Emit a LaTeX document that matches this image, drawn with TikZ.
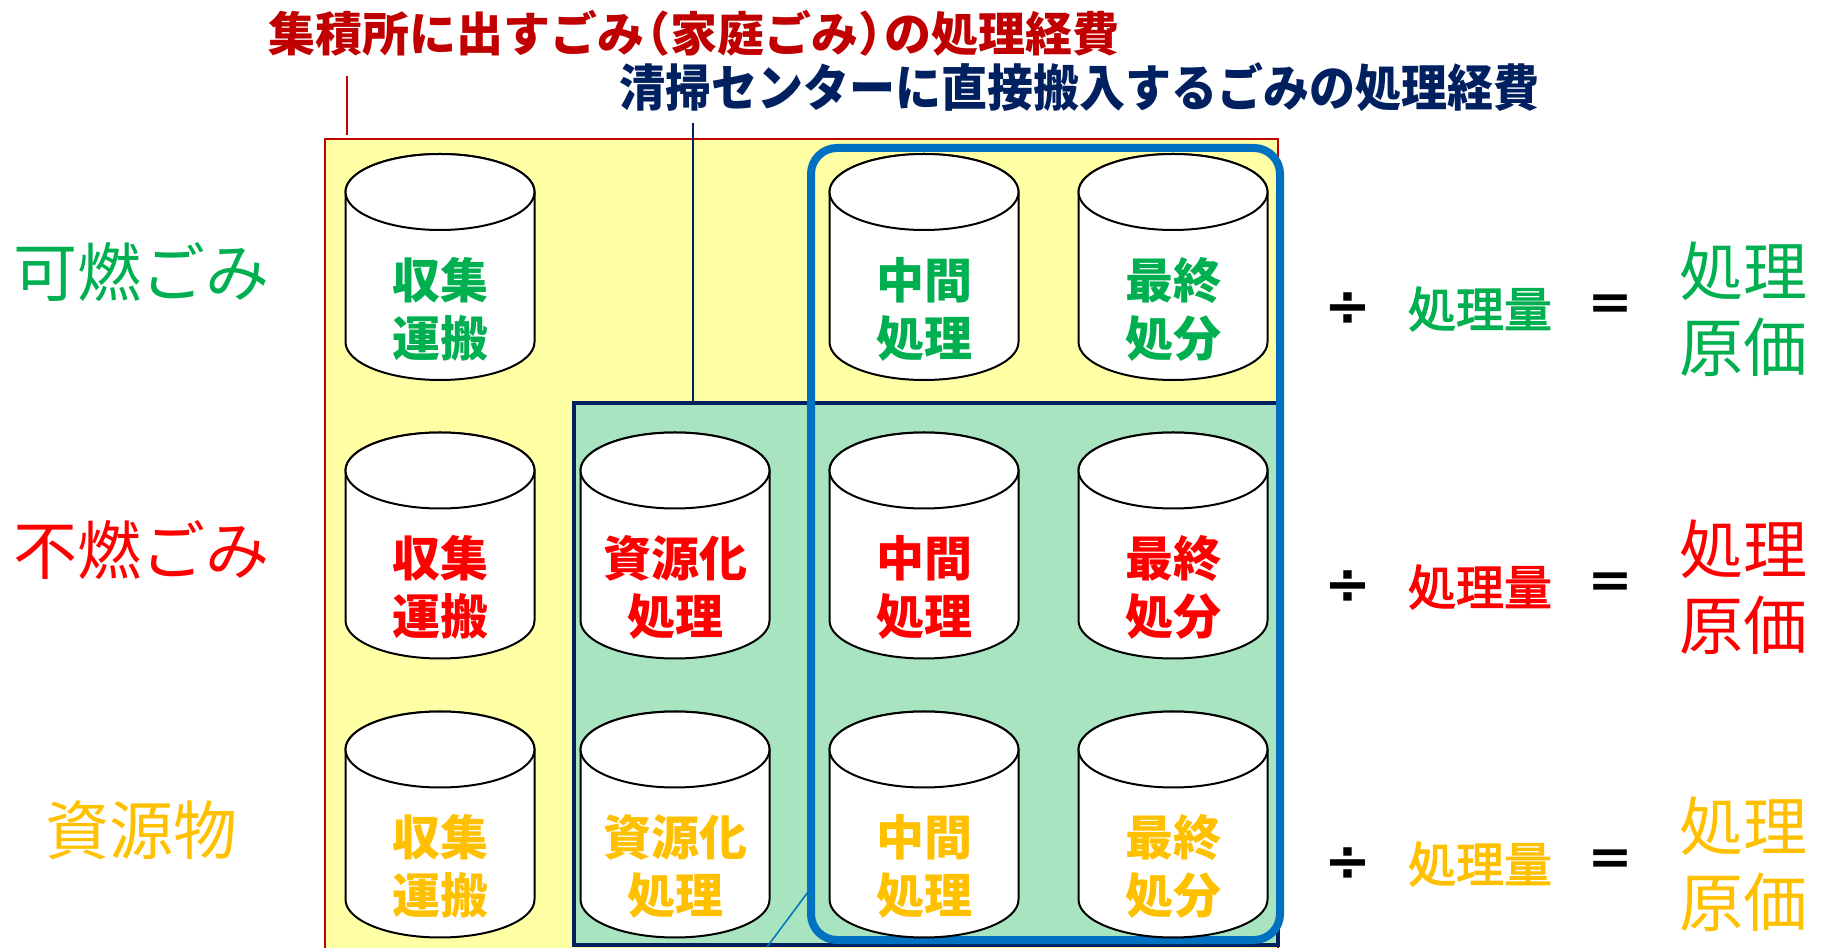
\documentclass[tikz,border=0pt]{standalone}
\usepackage{fontspec}
\setmainfont{Noto Sans CJK JP}
\newfontfamily\medfont{Noto Sans CJK JP}[FakeBold=2.5]
\newfontfamily\symfont{DejaVu Sans}
\definecolor{cgreen}{HTML}{00B050}
\definecolor{cred}{HTML}{FF0000}
\definecolor{corange}{HTML}{FFC000}
\definecolor{cdarkred}{HTML}{C00000}
\definecolor{cnavy}{HTML}{002060}
\definecolor{cblue}{HTML}{0070C0}
\definecolor{cyellow}{HTML}{FFFFA6}
\definecolor{cmint}{HTML}{A8E4BF}
\newcommand\drawcyl[2]{%
  \draw[cylbody] ({#1-94.5},{#2+75}) -- ({#1-94.5},{#2-75})
    arc[start angle=180,end angle=360,x radius=94.5,y radius=38]
    -- ({#1+94.5},{#2+75})
    arc[start angle=0,end angle=180,x radius=94.5,y radius=38] -- cycle;
  \draw[cylbody] (#1,{#2+75}) ellipse[x radius=94.5,y radius=38];
}
\tikzset{
  cylbody/.style={draw=black,line width=2pt,fill=white},
  cyltext/.style={font=\fontsize{48}{58}\selectfont\bfseries,align=center,inner sep=0pt},
  rowlabel/.style={font=\fontsize{64}{70}\selectfont,inner sep=0pt},
  divsign/.style={font=\symfont\fontsize{56}{60}\selectfont\bfseries,inner sep=0pt,text=black},
  eqsign/.style={font=\fontsize{48}{56}\selectfont\bfseries,inner sep=0pt,text=black},
  amount/.style={font=\medfont\fontsize{48}{56}\selectfont,inner sep=0pt},
  unitcost/.style={font=\fontsize{64}{76}\selectfont,align=center,inner sep=0pt},
  titletext/.style={inner sep=0pt},
}
\begin{document}
\begin{tikzpicture}[x=1pt,y=1pt]
\useasboundingbox (0,0) rectangle (1827,947);
\clip (0,0) rectangle (1827,947);
% background areas
\draw[draw=cdarkred,line width=1.5pt,fill=cyellow] (325,-10) rectangle (1278,808);
\draw[draw=cnavy,line width=4.5pt,fill=cmint] (574,2) rectangle (1278,544);
\draw[draw=cblue,line width=8pt,rounded corners=26pt] (811,7) rectangle (1280,799);
% titles
\node[titletext,text=cdarkred] (t1) at (694,914) {\fontsize{47}{50}\selectfont\bfseries 集積所に出すごみ\kern-0.45em（家庭ごみ）\kern-0.45em の処理経費};
\node[titletext,text=cnavy] (t2) at (1079,860) {\scalebox{0.92}[1]{\fontsize{50}{54}\selectfont\bfseries 清掃センターに直接搬入するごみの処理経費}};
\coordinate (r1) at (347,871);
\coordinate (r2) at (347,812);
\draw[cdarkred,line width=2pt] (r1) -- (r2);
\coordinate (n1) at (693,824);
\coordinate (n2) at (693,544);
\draw[cnavy,line width=2pt] (n1) -- (n2);
\coordinate (b1) at (808,55);
\coordinate (b2) at (767,0);
\draw[cblue,line width=1.5pt] (b1) -- (b2);
% cylinders
\drawcyl{440}{680}
\drawcyl{924}{680}
\drawcyl{1173}{680}
\drawcyl{440}{401.5}
\drawcyl{675}{401.5}
\drawcyl{924}{401.5}
\drawcyl{1173}{401.5}
\drawcyl{440}{122.5}
\drawcyl{675}{122.5}
\drawcyl{924}{122.5}
\drawcyl{1173}{122.5}
% cylinder texts
\node[cyltext,text=cgreen] (a11) at (440,638) {収集\\運搬};
\node[cyltext,text=cgreen] (a13) at (924,638) {中間\\処理};
\node[cyltext,text=cgreen] (a14) at (1173,638) {最終\\処分};
\node[cyltext,text=cred] (a21) at (440,359.5) {収集\\運搬};
\node[cyltext,text=cred] (a22) at (675,359.5) {資源化\\処理};
\node[cyltext,text=cred] (a23) at (924,359.5) {中間\\処理};
\node[cyltext,text=cred] (a24) at (1173,359.5) {最終\\処分};
\node[cyltext,text=corange] (a31) at (440,80.5) {収集\\運搬};
\node[cyltext,text=corange] (a32) at (675,80.5) {資源化\\処理};
\node[cyltext,text=corange] (a33) at (924,80.5) {中間\\処理};
\node[cyltext,text=corange] (a34) at (1173,80.5) {最終\\処分};
% row labels
\node[rowlabel,text=cgreen] (l1) at (141,675) {可燃ごみ};
\node[rowlabel,text=cred] (l2) at (141,397) {不燃ごみ};
\node[rowlabel,text=corange] (l3) at (141,117) {資源物};
% right side
\node[divsign] (d1) at (1348,638) {÷};
\node[amount,text=cgreen] (q1) at (1480,638) {処理量};
\node[eqsign] (e1) at (1610,638) {＝};
\node[unitcost,text=cgreen] (u1) at (1743,638) {処理\\原価};
\node[divsign] (d2) at (1348,360) {÷};
\node[amount,text=cred] (q2) at (1480,360) {処理量};
\node[eqsign] (e2) at (1610,360) {＝};
\node[unitcost,text=cred] (u2) at (1743,360) {処理\\原価};
\node[divsign] (d3) at (1348,83) {÷};
\node[amount,text=corange] (q3) at (1480,83) {処理量};
\node[eqsign] (e3) at (1610,83) {＝};
\node[unitcost,text=corange] (u3) at (1743,83) {処理\\原価};
\end{tikzpicture}
\end{document}
